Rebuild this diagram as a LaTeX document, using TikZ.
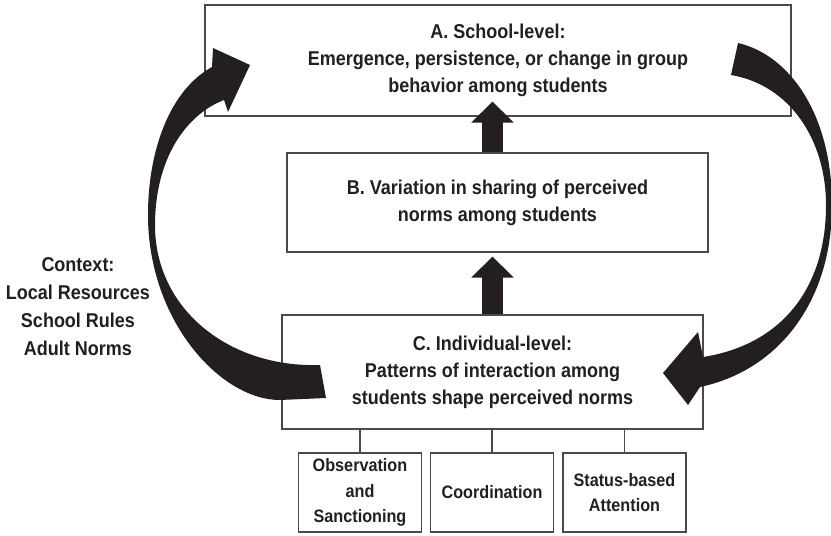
\documentclass[tikz,border=0pt]{standalone}
\usepackage{fontspec}
\setmainfont[FakeStretch=0.9]{Liberation Sans}
\usepackage{tikz}
\usetikzlibrary{arrows.meta,positioning}

\definecolor{ink}{HTML}{231F20}
\definecolor{rule}{HTML}{4A4A4A}

\begin{document}
\begin{tikzpicture}
  [
    x=0.75pt, y=-0.75pt,
    Level/.style={rectangle, draw=rule, line width=0.8pt, inner sep=0pt, align=center,
      minimum width=315.75pt, font=\bfseries\fontsize{15}{20.25}\selectfont, text=ink},
    Mech/.style={rectangle, draw=rule, line width=0.8pt, inner sep=0pt, align=center,
      minimum width=92.25pt, minimum height=59.25pt, font=\bfseries\fontsize{13.5}{19}\selectfont, text=ink},
    Up/.style={draw=ink, line width=15.75pt, -{Triangle[length=15.75pt, width=30.75pt]}},
    Tie/.style={draw=rule, line width=0.8pt}
  ]
  \useasboundingbox (0,0) rectangle (831,535);

  % Nodes (x, y)
  \node[Level, minimum width=439.5pt, minimum height=83.25pt] (vA) at (498, 60.5)
    {A. School-level:\\Emergence, persistence, or change in group\\behavior among students};
  \node[Level, minimum height=74.25pt] (vB) at (497.5, 202.5)
    {B. Variation in sharing of perceived\\norms among students};
  \node[Level, minimum height=85.5pt] (vC) at (492.5, 372)
    {C. Individual-level:\\Patterns of interaction among\\students shape perceived norms};

  \node[Mech] (m1) at (360, 492.5) {Observation\\and\\Sanctioning};
  \node[Mech] (m2) at (492, 492.5) {Coordination};
  \node[Mech] (m3) at (624.5, 492.5) {Status-based\\Attention};

  \node[align=center, text=ink, font=\bfseries\fontsize{15}{21}\selectfont] (ctx) at (78, 307)
    {Context:\\Local Resources\\School Rules\\Adult Norms};

  % Lines
  % C -> B -> A
  \path [Up, shorten >=3pt] (vC.north) -- (vC.north |- vB.south);
  \path [Up, shorten >=-11.25pt] (vC.north |- vB.north) -- (vC.north |- vA.south);
  % C -- mechanisms
  \path [Tie] (m1.north) -- (m1.north |- vC.south);
  \path [Tie] (m2.north) -- (m2.north |- vC.south);
  \path [Tie] (m3.north) -- (m3.north |- vC.south);

  % feedback C -> A (left)
  \fill[ink] (326,398) -- (320,365)
    .. controls (230,368) and (155,310) .. (155,225)
    .. controls (155,160) and (185,115) .. (224,100)
    -- (228,112) -- (250,65) -- (213,48) -- (212,67)
    .. controls (170,90) and (148,150) .. (148,215)
    .. controls (148,320) and (220,400) .. (280,400) -- cycle;
  % feedback A -> C (right)
  \fill[ink] (738,43)
    .. controls (790,55) and (832,115) .. (832,205)
    .. controls (832,300) and (780,370) .. (700,387)
    -- (688,405) -- (663,373) -- (698,332) -- (703,357)
    .. controls (780,345) and (826,290) .. (826,205)
    .. controls (826,140) and (790,85) .. (731,75) -- cycle;

\end{tikzpicture}
\end{document}
